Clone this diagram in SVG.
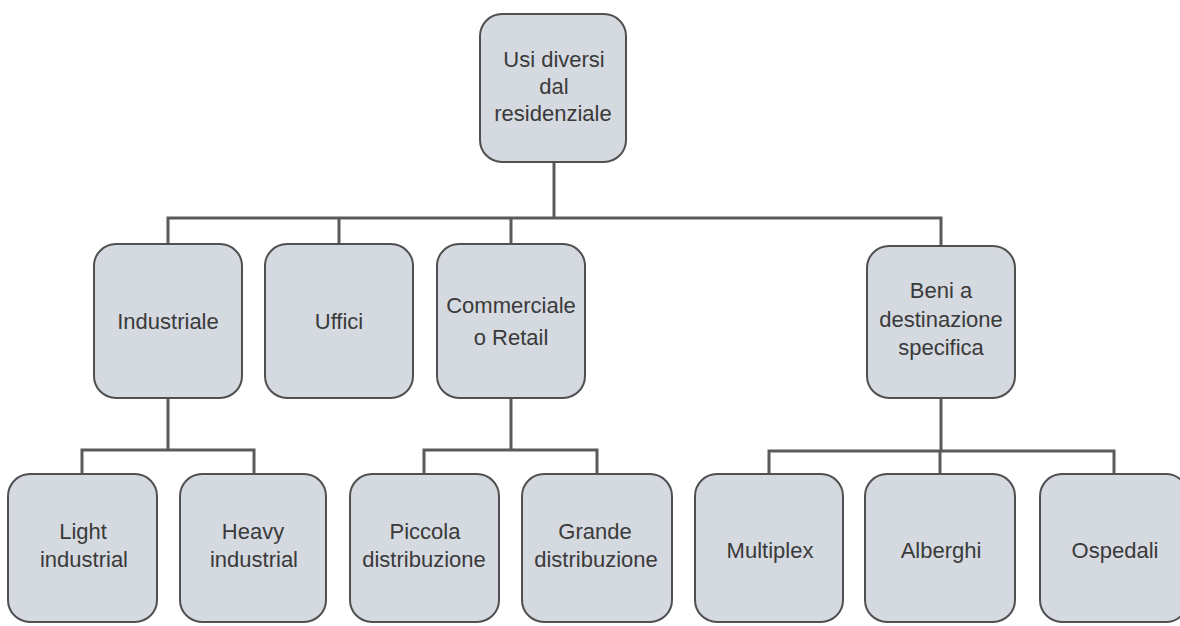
<svg xmlns="http://www.w3.org/2000/svg" width="1180" height="626" viewBox="0 0 1180 626">
  <style>
    .box { fill: #d5d9e0; stroke: #505050; stroke-width: 2; }
    .lbl { font-family: "Liberation Sans", Arial, sans-serif; font-size: 22px; fill: #3a3a3a; text-anchor: middle; }
    .wire { fill: none; stroke: #5a5a5a; stroke-width: 3; }
  </style>
  <rect width="1180" height="626" fill="#ffffff"/>

  <!-- connectors -->
  <g id="connectors" class="wire">
    <path d="M554 162 V218"/>
    <path d="M168 244 V218 H941 V246"/>
    <path d="M339 218 V244"/>
    <path d="M511 218 V244"/>
    <path d="M168 398 V450"/>
    <path d="M82 474 V450 H254 V474"/>
    <path d="M511 398 V450"/>
    <path d="M424 474 V450 H597 V474"/>
    <path d="M941 398 V451"/>
    <path d="M769 474 V451 H1114 V474"/>
    <path d="M940 451 V474"/>
  </g>

  <!-- root -->
  <g id="node-root">
    <rect class="box" x="480" y="14" width="146" height="148" rx="22"/>
    <text class="lbl" x="554" y="67">Usi diversi</text>
    <text class="lbl" x="554" y="94">dal</text>
    <text class="lbl" x="553" y="121">residenziale</text>
  </g>

  <!-- level 2 -->
  <g id="node-industriale">
    <rect class="box" x="94" y="244" width="148" height="154" rx="22"/>
    <text class="lbl" x="168" y="329">Industriale</text>
  </g>
  <g id="node-uffici">
    <rect class="box" x="265" y="244" width="148" height="154" rx="22"/>
    <text class="lbl" x="339" y="329">Uffici</text>
  </g>
  <g id="node-commerciale">
    <rect class="box" x="437" y="244" width="148" height="154" rx="22"/>
    <text class="lbl" x="511" y="313">Commerciale</text>
    <text class="lbl" x="511" y="345">o Retail</text>
  </g>
  <g id="node-beni">
    <rect class="box" x="867" y="246" width="148" height="152" rx="22"/>
    <text class="lbl" x="941" y="298">Beni a</text>
    <text class="lbl" x="941" y="327">destinazione</text>
    <text class="lbl" x="941" y="355">specifica</text>
  </g>

  <!-- level 3 -->
  <g id="node-light">
    <rect class="box" x="8" y="474" width="149" height="148" rx="22"/>
    <text class="lbl" x="83" y="539">Light</text>
    <text class="lbl" x="84" y="567">industrial</text>
  </g>
  <g id="node-heavy">
    <rect class="box" x="180" y="474" width="146" height="148" rx="22"/>
    <text class="lbl" x="253" y="539">Heavy</text>
    <text class="lbl" x="254" y="567">industrial</text>
  </g>
  <g id="node-piccola">
    <rect class="box" x="350" y="474" width="149" height="148" rx="22"/>
    <text class="lbl" x="425" y="539">Piccola</text>
    <text class="lbl" x="424" y="567">distribuzione</text>
  </g>
  <g id="node-grande">
    <rect class="box" x="522" y="474" width="150" height="148" rx="22"/>
    <text class="lbl" x="595" y="539">Grande</text>
    <text class="lbl" x="596" y="567">distribuzione</text>
  </g>
  <g id="node-multiplex">
    <rect class="box" x="695" y="474" width="148" height="148" rx="22"/>
    <text class="lbl" x="770" y="558">Multiplex</text>
  </g>
  <g id="node-alberghi">
    <rect class="box" x="865" y="474" width="150" height="148" rx="22"/>
    <text class="lbl" x="941" y="558">Alberghi</text>
  </g>
  <g id="node-ospedali">
    <rect class="box" x="1040" y="474" width="148" height="148" rx="22"/>
    <text class="lbl" x="1115" y="558">Ospedali</text>
  </g>
</svg>
